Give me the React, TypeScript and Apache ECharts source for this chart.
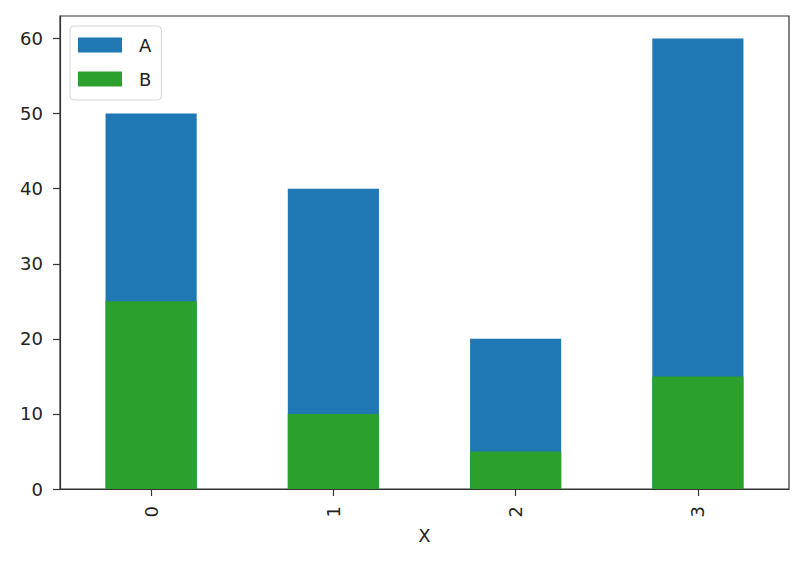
import React, { useEffect, useRef } from "react";
import * as echarts from "echarts";

const categories = ["0", "1", "2", "3"];
const seriesA = [50, 40, 20, 60];
const seriesB = [25, 10, 5, 15];
const yTicks = [0, 10, 20, 30, 40, 50, 60];

export default function App() {
  const ref = useRef<HTMLDivElement>(null);
  useEffect(() => {
    if (!ref.current) return;
    const chart = echarts.init(ref.current, null, { renderer: "svg" });
    const font = "DejaVu Sans";
    chart.setOption({
      animation: false,
      backgroundColor: "#ffffff",
      grid: {
        left: 60,
        right: 11,
        top: 16,
        bottom: 75,
        show: true,
        borderColor: "#333333",
        borderWidth: 1.2,
        backgroundColor: "transparent",
      },
      legend: {
        orient: "vertical",
        left: 70,
        top: 26,
        padding: [10, 10, 12, 8],
        itemWidth: 44,
        itemHeight: 15,
        itemGap: 16,
        backgroundColor: "#ffffff",
        borderColor: "#d5d5d5",
        borderWidth: 1,
        borderRadius: 4,
        icon: "rect",
        data: ["A", "B"],
        textStyle: {
          fontFamily: font,
          fontSize: 18,
          color: "#222222",
          padding: [0, 0, 0, 12],
          lineHeight: 15,
        },
      },
      xAxis: {
        type: "category",
        data: categories,
        boundaryGap: true,
        name: "X",
        nameLocation: "middle",
        nameGap: 37,
        nameTextStyle: { fontFamily: font, fontSize: 18, color: "#222222" },
        axisLine: { show: true, lineStyle: { color: "#333333", width: 1.2 } },
        axisTick: {
          show: true,
          alignWithLabel: true,
          length: 7,
          lineStyle: { color: "#333333", width: 1.2 },
        },
        axisLabel: {
          rotate: 90,
          margin: 17,
          fontFamily: font,
          fontSize: 18,
          color: "#222222",
        },
        splitLine: { show: false },
      },
      yAxis: {
        type: "value",
        min: 0,
        max: 63,
        interval: 10,
        axisLine: { show: true, lineStyle: { color: "#333333", width: 1.2 } },
        axisTick: {
          show: true,
          length: 7,
          customValues: yTicks,
          lineStyle: { color: "#333333", width: 1.2 },
        },
        axisLabel: {
          margin: 17,
          fontFamily: font,
          fontSize: 18,
          color: "#222222",
          customValues: yTicks,
        },
        splitLine: { show: false },
      },
      series: [
        {
          name: "A",
          type: "bar",
          data: seriesA,
          barWidth: "50%",
          barGap: "-100%",
          itemStyle: { color: "#1f77b4" },
          z: 2,
        },
        {
          name: "B",
          type: "bar",
          data: seriesB,
          barWidth: "50%",
          barGap: "-100%",
          itemStyle: { color: "#2ca02c" },
          z: 3,
        },
      ],
    });
    return () => chart.dispose();
  }, []);
  return <div ref={ref} style={{ width: 800, height: 564, margin: -8 }} />;
}
